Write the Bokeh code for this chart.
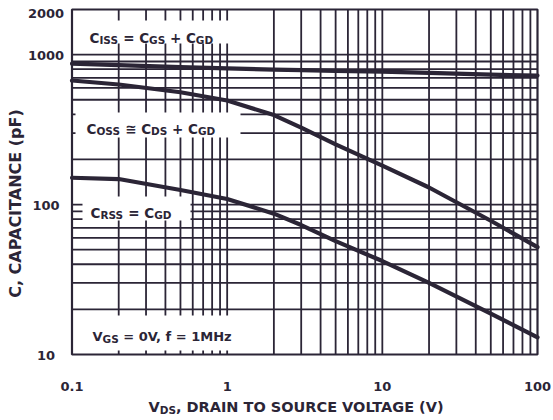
import math
from bokeh.plotting import figure
from bokeh.models import Label
from bokeh.embed import file_html
from bokeh.resources import INLINE

# ---- data ----
vds = [0.1, 0.2, 0.5, 1, 2, 3, 5, 10, 20, 50, 100]
ciss = [870, 850, 825, 810, 795, 788, 780, 770, 755, 735, 725]
coss = [672, 632, 561, 494, 395, 326, 252, 182, 130, 78, 52]
crss = [151, 148, 125, 109, 87, 73, 57, 42, 30, 18.7, 13]

x_ticks = [0.1, 1, 10, 100]
x_tick_labels = ["0.1", "1", "10", "100"]
y_ticks = [10, 100, 1000, 2000]
y_tick_labels = ["10", "100", "1000", "2000"]

x_grid = [m * d for d in (0.1, 1, 10) for m in range(2, 10)] + [1, 10]
y_grid = [m * d for d in (10, 100) for m in range(2, 10)] + [100, 1000]

INK = "#2b2536"
FONT = "DejaVu Sans"
NB = "\u00a0"

# layout (figure pixels): plot box inside the canvas
W, H = 553, 420
PL, PR, PT, PB = 71.5, 537, 9, 354
DX = (PR - PL) / 3.0
DY = (PB - PT) / math.log10(200)
XMIN, XMAX, YMIN, YMAX = 0.1, 100, 10, 2000

x_lo = XMIN * 10 ** (-PL / DX)
x_hi = XMAX * 10 ** ((W - PR) / DX)
y_lo = YMIN * 10 ** (-(H - PB) / DY)
y_hi = YMAX * 10 ** (PT / DY)

p = figure(width=W, height=H, x_axis_type="log", y_axis_type="log",
           x_range=(x_lo, x_hi), y_range=(y_lo, y_hi),
           output_backend="svg", toolbar_location=None,
           min_border=0, min_border_left=0, min_border_right=0,
           min_border_top=0, min_border_bottom=0)
p.xaxis.visible = False
p.yaxis.visible = False
p.xgrid.visible = False
p.ygrid.visible = False
p.outline_line_color = None
p.background_fill_color = "white"
p.border_fill_color = "white"

# grid lines
p.segment(x0=x_grid, x1=x_grid, y0=[YMIN] * len(x_grid), y1=[YMAX] * len(x_grid),
          line_color=INK, line_width=1.8)
p.segment(x0=[XMIN] * len(y_grid), x1=[XMAX] * len(y_grid), y0=y_grid, y1=y_grid,
          line_color=INK, line_width=1.8)

def xd(px):
    return XMIN * 10 ** ((px - PL) / DX)

def yd(py):
    return YMIN * 10 ** ((PB - py) / DY)

# white boxes behind annotation texts (pixels)
boxes = [(78, 20, 238, 43), (75, 112, 240, 137), (82, 196, 190, 220), (73, 315, 233, 350)]
p.quad(left=[xd(b[0]) for b in boxes], right=[xd(b[2]) for b in boxes],
       top=[yd(b[1]) for b in boxes], bottom=[yd(b[3]) for b in boxes],
       fill_color="white", line_color=None)

# frame
p.quad(left=[XMIN], right=[XMAX], top=[YMAX], bottom=[YMIN],
       fill_color=None, line_color=INK, line_width=2.2)

for ys in (ciss, coss, crss):
    p.line(vds, ys, line_color=INK, line_width=4.2, line_join="round", line_cap="round")

# ---- text helpers ----
WID = {" ": .348, NB: .348, ",": .380, ".": .380, "=": .838, "+": .838, "\u2245": .838,
       "(": .457, ")": .457, "A": .774, "C": .734, "D": .830, "E": .683, "F": .683,
       "G": .821, "H": .837, "I": .372, "L": .637, "M": .997, "N": .837, "O": .850,
       "P": .733, "R": .770, "S": .720, "T": .682, "U": .812, "V": .774,
       "f": .435, "z": .583, "p": .716}
for d in "0123456789":
    WID[d] = .696

def tw(t):
    return sum(WID.get(c, .7) for c in t)

def lab(text, px, py, size, align="left", baseline="alphabetic", angle=0.0):
    p.add_layout(Label(x=xd(px), y=yd(py), text=text, text_font=FONT,
                       text_font_style="bold", text_font_size=f"{size}px",
                       text_color=INK, text_align=align, text_baseline=baseline,
                       angle=angle))

def rich(segs, px, py, main, sub, drop):
    x = px
    for t, s in segs:
        size = sub if s else main
        t = t.replace(" ", NB)
        lab(t, x, py + (drop if s else 0), size)
        x += tw(t) * size

# annotation texts
rich([("C", 0), ("ISS", 1), (" = C", 0), ("GS", 1), (" + C", 0), ("GD", 1)], 89, 37.5, 13.5, 10.5, 1.5)
rich([("C", 0), ("OSS", 1), (" \u2245 C", 0), ("DS", 1), (" + C", 0), ("GD", 1)], 86, 128.5, 13.5, 10.5, 1.5)
rich([("C", 0), ("RSS", 1), (" = C", 0), ("GD", 1)], 90, 212.5, 13.5, 10.5, 1.5)
rich([("V", 0), ("GS", 1), (" = 0V, f = 1MHz", 0)], 92, 336, 13, 10.5, 2)

# tick labels
y_label_pos = {10: 355, 100: 204.5, 1000: 55, 2000: 12.5}
for v, t in zip(y_ticks, y_tick_labels):
    lab(t, 45.5, y_label_pos[v], 13, align="center", baseline="middle")
for v, t in zip(x_ticks, x_tick_labels):
    px = PL + DX * math.log10(v / XMIN)
    lab(t, px, 386, 13, align="center", baseline="middle")

# axis titles
lab("C, CAPACITANCE (pF)", 15, 203, 16, align="center", baseline="middle", angle=math.pi / 2)
rich([("V", 0), ("DS", 1), (", DRAIN TO SOURCE VOLTAGE (V)", 0)], 148, 406, 14.5, 10.5, 3)

open("out.html", "w").write(file_html(p, INLINE))
